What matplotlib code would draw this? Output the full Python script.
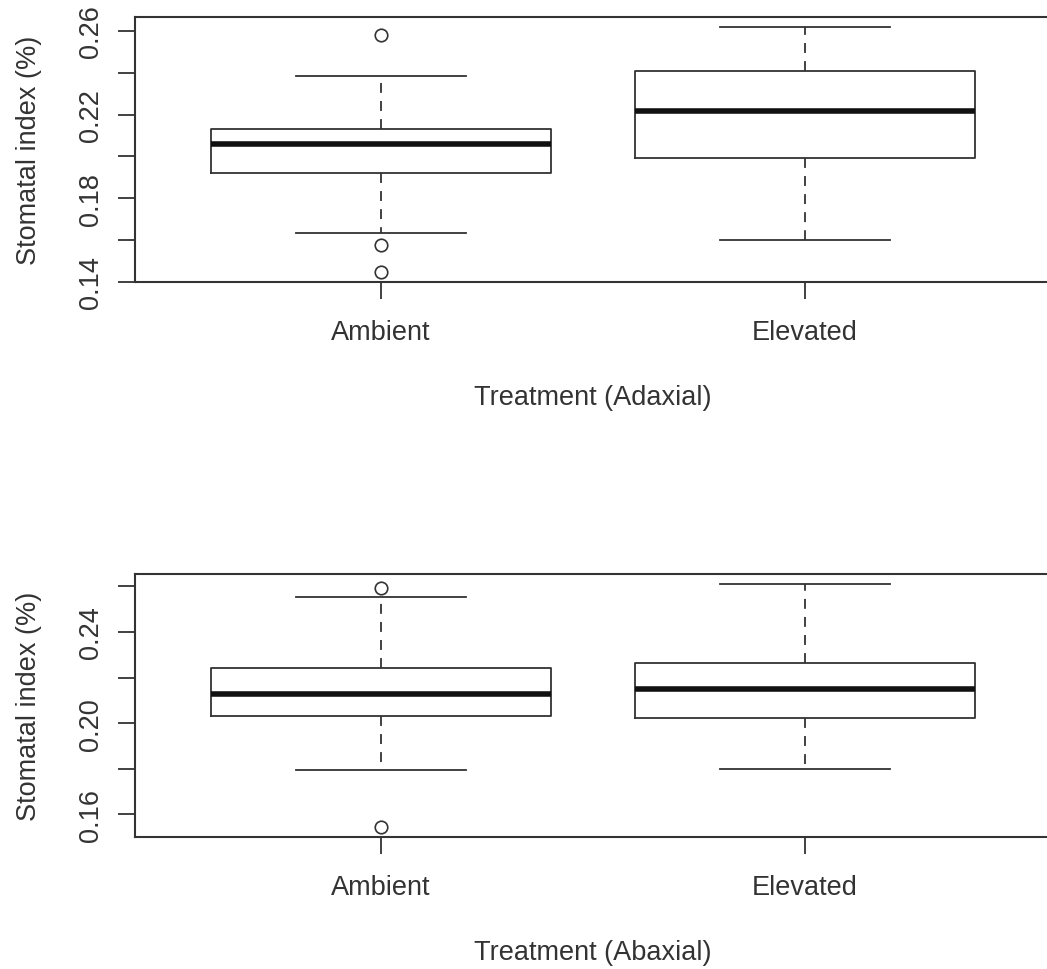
import matplotlib
matplotlib.use("Agg")
from matplotlib import pyplot as plt

plt.rcParams["font.family"] = ["Liberation Sans", "DejaVu Sans"]

# Values
groups = ["Ambient", "Elevated"]

# Adaxial (top panel)
adax_whislo = [0.1635, 0.1601]
adax_q1 = [0.1923, 0.1993]
adax_med = [0.2057, 0.2219]
adax_q3 = [0.2129, 0.2409]
adax_whishi = [0.2384, 0.2619]
adax_fliers = [[0.2581, 0.1577, 0.1448], []]

# Abaxial (bottom panel)
abax_whislo = [0.1797, 0.1801]
abax_q1 = [0.2034, 0.2021]
abax_med = [0.2129, 0.2151]
abax_q3 = [0.2243, 0.2264]
abax_whishi = [0.2553, 0.2612]
abax_fliers = [[0.2593, 0.1544], []]

INK = "#333333"
FS = 19.5


def make_stats(whislo, q1, med, q3, whishi, fliers):
    stats = []
    for i, name in enumerate(groups):
        stats.append({
            "label": name, "whislo": whislo[i], "q1": q1[i], "med": med[i],
            "q3": q3[i], "whishi": whishi[i], "fliers": fliers[i],
        })
    return stats


def draw_panel(ax, stats, yticks, ylabels, xlabel):
    ax.bxp(
        stats, positions=[1, 2], widths=0.8, capwidths=0.4,
        boxprops=dict(color=INK, linewidth=1.3),
        medianprops=dict(color="#111111", linewidth=4.0, solid_capstyle="butt"),
        whiskerprops=dict(color=INK, linewidth=1.3, linestyle=(0, (5.5, 4.5))),
        capprops=dict(color=INK, linewidth=1.3),
        flierprops=dict(marker="o", markerfacecolor="none", markeredgecolor=INK,
                        markersize=9, markeredgewidth=1.2),
    )
    # R-style 4% padding around the data range
    lo = min(s["whislo"] for s in stats)
    lo = min([lo] + [f for s in stats for f in s["fliers"]])
    hi = max(s["whishi"] for s in stats)
    hi = max([hi] + [f for s in stats for f in s["fliers"]])
    pad = (hi - lo) * 0.04
    ax.set_ylim(lo - pad, hi + pad)
    ax.set_xlim(0.5 - 0.08, 2.5 + 0.08)

    ax.set_yticks(yticks)
    ax.set_yticklabels(ylabels, rotation=90, va="center", fontsize=FS, color=INK)
    ax.set_xticks([1, 2])
    ax.set_xticklabels(groups, fontsize=FS, color=INK)
    ax.tick_params(axis="y", length=12, width=1.3, color=INK, pad=10)
    ax.tick_params(axis="x", length=12, width=1.3, color=INK, pad=14.5)
    for sp in ax.spines.values():
        sp.set_color(INK)
        sp.set_linewidth(1.5)
    ax.set_ylabel("Stomatal index (%)", fontsize=FS, color=INK, labelpad=26)
    ax.set_xlabel(xlabel, fontsize=FS, color=INK, labelpad=28)


W, H = 1047, 970
fig = plt.figure(figsize=(W / 100, H / 100), dpi=100)

# axes boxes in pixel coords (left, top, right, bottom); right edge runs off the image
ax1 = fig.add_axes([135 / W, 1 - 283 / H, (1051 - 135) / W, (283 - 18) / H])
ax2 = fig.add_axes([135 / W, 1 - 838 / H, (1051 - 135) / W, (838 - 575) / H])

draw_panel(ax1, make_stats(adax_whislo, adax_q1, adax_med, adax_q3, adax_whishi, adax_fliers),
           [0.14, 0.16, 0.18, 0.20, 0.22, 0.24, 0.26],
           ["0.14", "", "0.18", "", "0.22", "", "0.26"],
           "Treatment (Adaxial)")
draw_panel(ax2, make_stats(abax_whislo, abax_q1, abax_med, abax_q3, abax_whishi, abax_fliers),
           [0.16, 0.18, 0.20, 0.22, 0.24, 0.26],
           ["0.16", "", "0.20", "", "0.24", ""],
           "Treatment (Abaxial)")

fig.savefig("out.png", dpi=100)
